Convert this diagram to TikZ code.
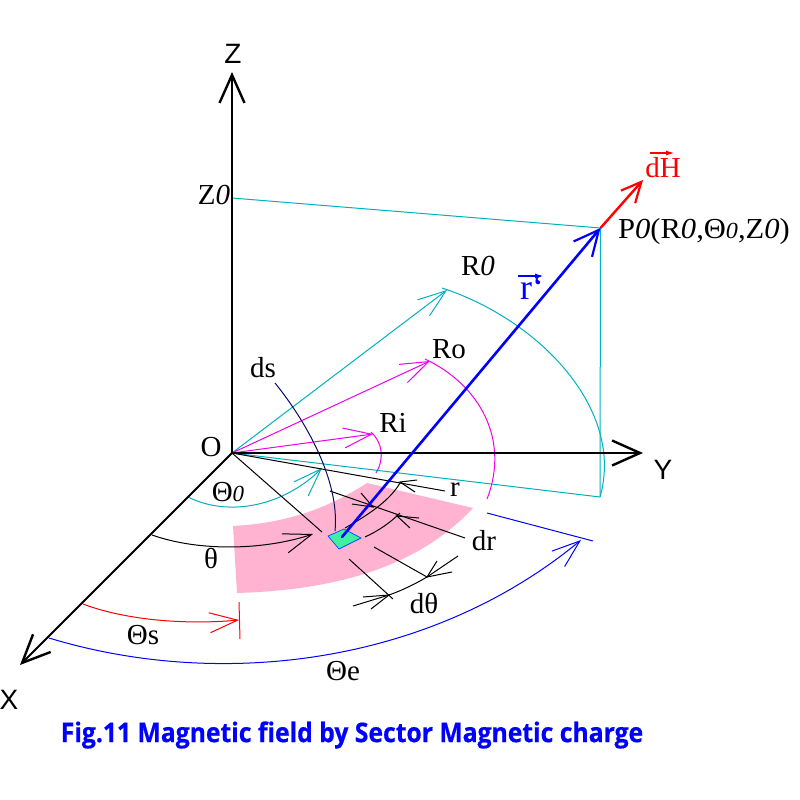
\documentclass[tikz,border=0pt]{standalone}
\usepackage{fontspec}
\setmainfont{Liberation Serif}
\newfontfamily\axisfont{Liberation Sans}
\newfontfamily\titlefont{Open Sans}[BoldFeatures={FakeBold=0.6}]
\usetikzlibrary{arrows.meta}
\definecolor{cy}{RGB}{0,178,190}
\definecolor{mg}{RGB}{240,0,240}
\definecolor{pk}{RGB}{255,179,208}
\definecolor{gn}{RGB}{64,240,160}
\definecolor{nv}{RGB}{10,10,100}
\tikzset{
 axisline/.style={draw=black,line width=2pt,-{Straight Barb[length=28pt,width=25pt,line width=2.4pt]}},
 thin arrow/.style={-{Straight Barb[length=28pt,width=20pt,line width=1pt]},line width=1pt},
 thinline/.style={line width=1pt},
 lbl/.style={font=\fontsize{29}{29}\selectfont,inner sep=0pt},
 axlbl/.style={font=\axisfont\fontsize{28}{28}\selectfont,inner sep=0pt},
 vecbar/.style={line width=1.6pt,-{Latex[length=9pt,width=5pt]}}
}
\newcommand{\zr}{\textit{0}}
\newcommand{\zs}{{\fontsize{23}{23}\selectfont\textit{0}}}
\begin{document}
\begin{tikzpicture}[x=1pt,y=-1pt]
\useasboundingbox (0,0) rectangle (800,800);
\fill[white] (0,0) rectangle (800,800);
% named points
\coordinate (O) at (232,453);
\coordinate (Zt) at (232,72);
\coordinate (Yt) at (643,453);
\coordinate (Xt) at (20,665);
\coordinate (Z0) at (232,198);
\coordinate (P0) at (600.5,228);
\coordinate (Ft) at (600,497);
\coordinate (dHt) at (643,180);
\coordinate (src) at (342,537);
% sector
\fill[pk] (233,526) .. controls (285,523) and (325,510) .. (367,483) -- (473,508)
  .. controls (420,565) and (340,590) .. (237,593) -- cycle;
\filldraw[fill=gn,draw=blue!70!cyan,line width=.7pt] (328,536) -- (344,529) -- (361,538) -- (339,549) -- cycle;
% cyan
\draw[cy,thinline] (O) -- (Ft);
\draw[cy,thinline] (P0) -- (Ft);
\draw[cy,thinline] (Z0) -- (P0);
\coordinate (R0t) at (447,290);
\draw[cy,thin arrow] (O) -- (R0t);
\draw[cy,thinline] (442,288) .. controls (540,320) and (625,410) .. (Ft);
\coordinate (Tht) at (322,468);
\draw[cy,thin arrow] (188,497) .. controls (230,518) and (285,505) .. (Tht);
% magenta
\coordinate (Rot) at (430,361);
\coordinate (Rit) at (373,434);
\draw[mg,thin arrow] (O) -- (Rot);
\draw[mg,thin arrow] (O) -- (Rit);
\draw[mg,thinline] (425,359) .. controls (480,385) and (510,440) .. (487,499);
\draw[mg,thinline] (371,432) .. controls (382,442) and (385,458) .. (376,473);
% black thin lines
\coordinate (rEnd) at (445,491);
\draw[thinline] (O) -- (rEnd);
\coordinate (sEnd) at (322,532);
\draw[thinline] (O) -- (sEnd);
\coordinate (tht) at (313,534);
\draw[thin arrow] (152,535) .. controls (200,552) and (265,550) .. (tht);
% r arc and dr
\draw[thinline] (345,528) .. controls (370,514) and (390,500) .. (400,483);
\draw[thinline] (417,480) -- (400,482) -- (415,492);
\draw[thinline] (352,504) -- (373,507) -- (361,493);
\draw[thinline] (365,537) .. controls (378,531) and (390,523) .. (400,513);
\draw[thinline] (419,518) -- (397,516) -- (410,528);
\coordinate (drA) at (330,491);
\coordinate (drB) at (465,538);
\draw[thinline] (drA) -- (drB);
% dtheta
\coordinate (dtA) at (374,547);
\coordinate (dtB) at (427,577);
\coordinate (dtC) at (349,559);
\coordinate (dtD) at (393,599);
\draw[thinline] (dtA) -- (dtB);
\draw[thinline] (dtC) -- (dtD);
\draw[thinline] (353,606) -- (389,595) .. controls (403,590) and (415,584) .. (427,577) -- (458,556);
\draw[thinline] (363,597) -- (389,595) -- (371,609);
\draw[thinline] (437,561) -- (427,577) -- (452,572);
% ds
\draw[nv,thinline] (275,383) .. controls (305,420) and (340,480) .. (335,531);
% red Theta s
\coordinate (tsA) at (83,604);
\coordinate (tsB) at (239,620);
\draw[red,thin arrow] (tsA) .. controls (125,620) and (185,625) .. (tsB);
\coordinate (tkA) at (239,602);
\coordinate (tkB) at (240,639);
\draw[red,thinline] (tkA) -- (tkB);
% blue Theta e
\coordinate (teA) at (49,638);
\coordinate (teB) at (581,540);
\draw[blue,thin arrow] (teA) .. controls (220,690) and (430,665) .. (teB);
\coordinate (tk2A) at (487,513);
\coordinate (tk2B) at (593,541);
\draw[blue,thinline] (tk2A) -- (tk2B);
% axes
\draw[axisline] (O) -- (Zt);
\draw[axisline] (O) -- (Yt);
\draw[axisline] (O) -- (Xt);
% vectors
\draw[blue,line width=2.6pt,line cap=round,-{Straight Barb[length=25pt,width=24pt,line width=2.2pt]}] (src) -- (P0);
\draw[red,line width=2.4pt,-{Straight Barb[length=20pt,width=19pt,line width=2.2pt]}] (P0) -- (dHt);
% labels
\node[axlbl] (lZ) at (233,54) {Z};
\node[axlbl] (lY) at (663,470) {Y};
\node[axlbl] (lX) at (9,700) {X};
\node[lbl] (lO) at (211,447) {O};
\node[lbl] (lZ0) at (214,195) {Z\zr};
\node[lbl,text=red] (ldH) at (663,168) {dH};
\draw[red,vecbar] (650,153) -- (675,153);
\node[lbl,anchor=west] (lP0) at (618,232) {\scalebox{1.053}[1]{P\zr(R\zr,Θ\zs,Z\zr)}};
\node[lbl] (lR0) at (478,266) {R\zr};
\node[lbl,text=blue,font=\fontsize{36}{36}\selectfont] (lr) at (532,288) {r`};
\draw[blue,vecbar] (518,276) -- (544,276);
\node[lbl] (lRo) at (449,349) {Ro};
\node[lbl] (lRi) at (393,423) {Ri};
\node[lbl] (lds) at (263,368) {ds};
\node[lbl] (lrr) at (455,490) {r};
\node[lbl] (ldr) at (484,541) {dr};
\node[lbl] (ldt) at (424,603) {dθ};
\node[lbl] (lth) at (211,558) {θ};
\node[lbl] (lT0) at (228,492) {Θ\zs};
\node[lbl] (lTs) at (143,635) {Θs};
\node[lbl] (lTe) at (343,671) {Θe};
\node[inner sep=0pt,text=blue,font=\titlefont\bfseries\fontsize{27}{27}\selectfont] (title) at (352,735) {\scalebox{0.915}[1]{Fig.11 Magnetic field by Sector Magnetic charge}};
\end{tikzpicture}
\end{document}
